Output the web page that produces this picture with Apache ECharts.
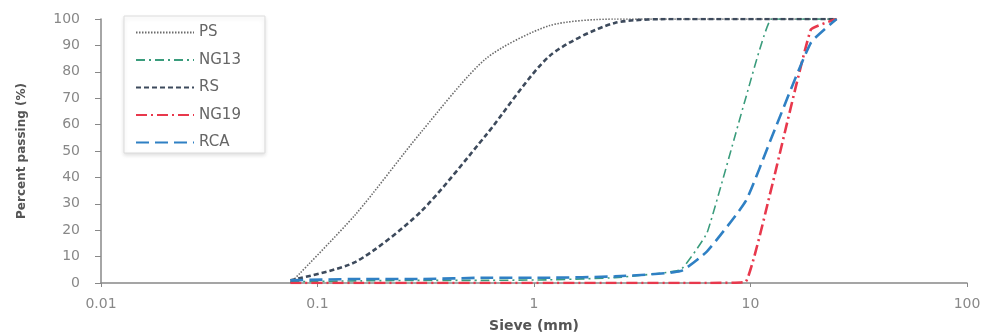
<!DOCTYPE html>
<html>
<head>
<meta charset="utf-8">
<script src="https://cdn.jsdelivr.net/npm/echarts@6/dist/echarts.min.js"></script>
<style>
  html, body { margin: 0; padding: 0; background: #fff; }
  #chart { width: 984px; height: 336px; }
</style>
</head>
<body>
<div id="chart"></div>
<script>
// sieve sizes (mm) and percent passing
const sieve = [0.075, 0.15, 0.3, 0.6, 1.18, 2.36, 4.75, 6.3, 9.5, 12.5, 19, 25]
const PS   = [0, 26, 57, 85, 97.5, 100, 100, 100, 100, 100, 100, 100]
const NG13 = [0.5, 0.8, 1, 1, 1.2, 2, 5, 19, 70, 100, 100, 100]
const RS   = [1, 8, 27, 56, 86, 98.5, 100, 100, 100, 100, 100, 100]
const NG19 = [0, 0, 0, 0, 0, 0, 0, 0, 0.5, 36, 96, 100]
const RCA  = [1, 1.5, 1.5, 2, 2, 2.5, 4.5, 12, 31, 55, 91, 100]
const xTicks = [0.01, 0.1, 1, 10, 100]

const pair = (ys) => sieve.map((x, i) => [x, ys[i]])

const chart = echarts.init(document.getElementById("chart"))

const mkLine = (name, data, color, width, type, smooth) => ({
  name: name,
  type: "line",
  data: pair(data),
  symbol: "none",
  showSymbol: false,
  smooth: smooth,
  lineStyle: { color: color, width: width, type: type },
  itemStyle: { color: color },
})

const font = "DejaVu Sans"

const option = {
  animation: false,
  grid: { left: 101, right: 17, top: 19, bottom: 53, outerBoundsMode: "none" },
  legend: {
    orient: "vertical",
    left: 124,
    top: 16,
    padding: [9, 24, 3, 11],
    itemWidth: 58,
    itemHeight: 14,
    itemGap: 12.5,
    backgroundColor: "#fff",
    borderColor: "#dcdcdc",
    borderWidth: 1,
    shadowColor: "rgba(0,0,0,0.12)",
    shadowBlur: 4,
    shadowOffsetY: 2,
    itemStyle: { opacity: 0 },
    textStyle: { color: "#666", fontSize: 15, fontFamily: font },
    data: ["PS", "NG13", "RS", "NG19", "RCA"],
  },
  xAxis: {
    type: "log",
    logBase: 10,
    min: xTicks[0],
    max: xTicks[xTicks.length - 1],
    name: "Sieve (mm)",
    nameLocation: "middle",
    nameGap: 36,
    nameTextStyle: { color: "#555", fontSize: 14, fontWeight: "bold", fontFamily: font },
    axisLine: { lineStyle: { color: "#888", width: 1.5 } },
    axisTick: { show: true, length: 4, lineStyle: { color: "#888" } },
    axisLabel: {
      color: "#888",
      fontSize: 14,
      margin: 14,
      fontFamily: font,
      formatter: (v) => String(Number(v.toPrecision(3))),
    },
    splitLine: { show: false },
    minorTick: { show: false },
  },
  yAxis: {
    type: "value",
    min: 0,
    max: 100,
    interval: 10,
    name: "Percent passing (%)",
    nameLocation: "middle",
    nameGap: 73,
    nameTextStyle: { color: "#555", fontSize: 12, fontWeight: "bold", fontFamily: font },
    axisLine: { show: true, lineStyle: { color: "#888", width: 1.5 } },
    axisTick: { show: true, length: 6, lineStyle: { color: "#888" } },
    axisLabel: { color: "#888", fontSize: 14, margin: 21, fontFamily: font },
    splitLine: { show: false },
  },
  series: [
    mkLine("PS", PS, "#6b6b6b", 1.6, [1.5, 1.5], 0.25),
    mkLine("NG13", NG13, "#3a9c7c", 1.6, [9, 4, 2, 4], 0.1),
    mkLine("RS", RS, "#3d4a5c", 2.6, [5, 3], 0.25),
    mkLine("NG19", NG19, "#e8384c", 2.6, [11, 4, 2, 4], 0.1),
    mkLine("RCA", RCA, "#2f80c4", 2.6, [13, 6], 0.15),
  ],
}

chart.setOption(option)
</script>
</body>
</html>
